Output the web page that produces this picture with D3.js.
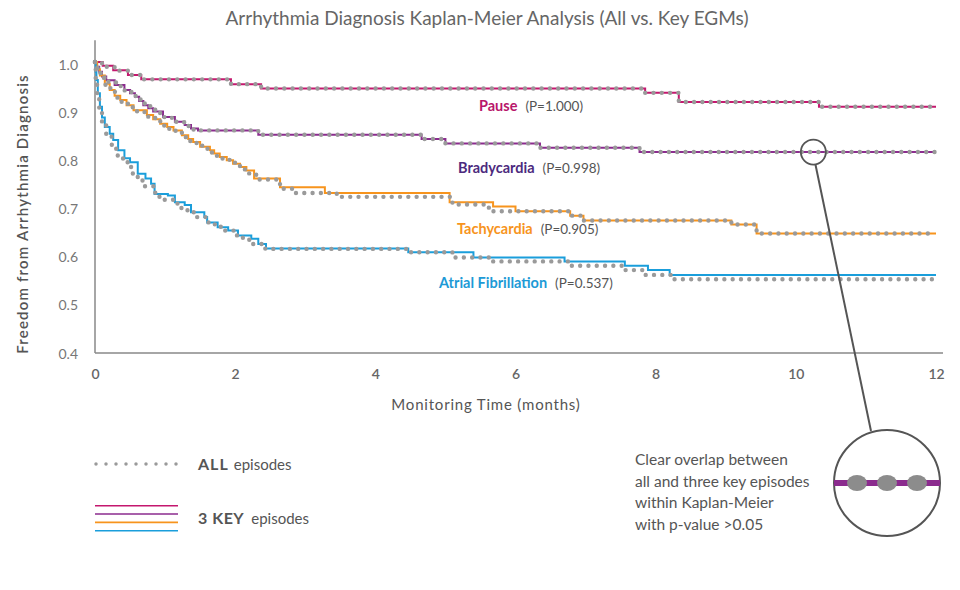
<html>
<head>
<title>Arrhythmia Diagnosis Kaplan-Meier</title>
<script src="https://cdn.jsdelivr.net/npm/d3@7"></script>
<style>
body { margin: 0; background: #fff; }
text { font-family: Lato, "Open Sans", sans-serif; }
</style>
</head>
<body>
<div id="canvas"></div>
<script>

// step points [months, survival]
var pauseKey = [[0,1],[0.11,0.992],[0.26,0.983],[0.47,0.973],[0.66,0.964],[1.94,0.954],[2.37,0.945],[7.85,0.936],[8.33,0.917],[10.33,0.907],[12,0.907]];
var pauseAll = [[0,1],[0.1,0.99],[0.28,0.982],[0.47,0.973],[0.66,0.964],[1.94,0.954],[2.37,0.945],[7.85,0.936],[8.33,0.917],[10.33,0.907],[12,0.907]];

var bradyKey = [[0,1],[0.03,0.99],[0.06,0.98],[0.1,0.97],[0.16,0.962],[0.28,0.952],[0.42,0.942],[0.5,0.935],[0.57,0.928],[0.63,0.919],[0.69,0.91],[0.76,0.904],[0.83,0.897],[0.97,0.886],[1.14,0.876],[1.28,0.869],[1.37,0.862],[1.47,0.858],[2.33,0.849],[4.66,0.84],[5.0,0.831],[6.35,0.822],[7.77,0.813],[12,0.813]];
var bradyAll = [[0,1],[0.03,0.988],[0.07,0.977],[0.11,0.968],[0.18,0.959],[0.3,0.95],[0.42,0.941],[0.52,0.933],[0.58,0.926],[0.65,0.917],[0.71,0.908],[0.79,0.901],[0.86,0.894],[0.99,0.884],[1.16,0.875],[1.3,0.867],[1.4,0.86],[1.47,0.858],[2.33,0.849],[4.66,0.84],[5.0,0.831],[6.35,0.822],[7.77,0.813],[12,0.813]];

var tachyKey = [[0,1],[0.03,0.985],[0.07,0.972],[0.14,0.955],[0.21,0.942],[0.28,0.93],[0.36,0.921],[0.45,0.91],[0.55,0.9],[0.74,0.89],[0.83,0.881],[0.93,0.872],[1.03,0.865],[1.12,0.858],[1.24,0.848],[1.33,0.84],[1.4,0.834],[1.5,0.824],[1.64,0.817],[1.7,0.81],[1.78,0.803],[1.88,0.796],[1.97,0.789],[2.07,0.782],[2.16,0.775],[2.27,0.758],[2.64,0.74],[3.28,0.728],[5.06,0.709],[5.68,0.7],[6.0,0.69],[6.78,0.681],[6.97,0.671],[9.08,0.6625],[9.44,0.644],[12,0.644]];
var tachyAll = [[0,1],[0.03,0.982],[0.08,0.967],[0.15,0.95],[0.22,0.938],[0.3,0.926],[0.38,0.916],[0.47,0.906],[0.6,0.896],[0.76,0.886],[0.86,0.877],[0.96,0.868],[1.06,0.861],[1.15,0.853],[1.27,0.844],[1.36,0.836],[1.45,0.829],[1.53,0.82],[1.66,0.812],[1.74,0.805],[1.82,0.798],[1.92,0.791],[2.01,0.784],[2.1,0.777],[2.2,0.766],[2.32,0.756],[2.64,0.737],[2.85,0.728],[3.45,0.72],[5.1,0.704],[5.62,0.69],[6.78,0.681],[6.97,0.671],[9.08,0.6625],[9.44,0.644],[12,0.644]];

var atrialKey = [[0,1],[0.01,0.98],[0.02,0.9625],[0.04,0.935],[0.07,0.907],[0.1,0.885],[0.14,0.865],[0.21,0.851],[0.26,0.838],[0.33,0.817],[0.42,0.8],[0.5,0.792],[0.61,0.768],[0.72,0.758],[0.8,0.747],[0.85,0.726],[1.04,0.723],[1.14,0.709],[1.28,0.703],[1.37,0.688],[1.56,0.678],[1.6,0.667],[1.75,0.657],[1.9,0.65],[2.04,0.64],[2.23,0.633],[2.33,0.622],[2.44,0.613],[4.47,0.605],[5.4,0.594],[6.7,0.586],[7.56,0.577],[7.89,0.568],[8.2,0.558],[12,0.558]];
var atrialAll = [[0,1],[0.01,0.96],[0.03,0.935],[0.06,0.9],[0.1,0.872],[0.16,0.845],[0.24,0.82],[0.31,0.806],[0.4,0.792],[0.47,0.782],[0.54,0.768],[0.61,0.754],[0.71,0.742],[0.86,0.726],[0.92,0.714],[1.12,0.706],[1.23,0.697],[1.32,0.688],[1.42,0.678],[1.6,0.667],[1.71,0.658],[1.8,0.65],[1.99,0.64],[2.11,0.631],[2.22,0.622],[2.43,0.612],[4.5,0.605],[5.1,0.594],[5.68,0.586],[6.78,0.577],[7.53,0.568],[7.85,0.558],[8.25,0.549],[12,0.549]];

var seriesNames = ["Pause", "Bradycardia", "Tachycardia", "Atrial Fibrillation"];
var pValues = ["(P=1.000)", "(P=0.998)", "(P=0.905)", "(P=0.537)"];
var keySeries = [pauseKey, bradyKey, tachyKey, atrialKey];
var allSeries = [pauseAll, bradyAll, tachyAll, atrialAll];

var xTicks = [0, 2, 4, 6, 8, 10, 12];
var yTicks = [0.4, 0.5, 0.6, 0.7, 0.8, 0.9, 1.0];
var noteLines = ["Clear overlap between", "all and three key episodes", "within Kaplan-Meier", "with p-value >0.05"];

var lineColors = ["#c4176e", "#8b2b8e", "#f7941d", "#1a9edb"];
var labelColors = ["#b8166b", "#4c2a7e", "#f7941d", "#1d9ad6"];
var dotColor = "#9a9a9a";

var svg = d3.select("#canvas")
            .append("svg")
            .attr("width", 960)
            .attr("height", 590);

var x = d3.scaleLinear().domain([0, 12]).range([95, 936]);
var y = d3.scaleLinear().domain([0.4, 1.0]).range([351, 62]);

var line = d3.line()
             .x(function(d) { return x(d[0]); })
             .y(function(d) { return y(d[1]); })
             .curve(d3.curveStepAfter);

// title
svg.append("text")
   .attr("x", 487)
   .attr("y", 25)
   .attr("text-anchor", "middle")
   .style("font-size", "19px")
   .style("fill", "#666")
   .text("Arrhythmia Diagnosis Kaplan-Meier Analysis (All vs. Key EGMs)");

// axes
var xAxis = svg.append("g")
               .attr("transform", "translate(0," + y(0.396) + ")")
               .call(d3.axisBottom(x).tickValues(xTicks).tickSize(0).tickPadding(16));
xAxis.select(".domain").remove();
xAxis.selectAll("text").style("font-size", "14px").style("fill", "#666").style("font-weight", "600").style("font-family", "Lato");

var yAxis = svg.append("g")
               .attr("transform", "translate(" + x(0) + ",0)")
               .call(d3.axisLeft(y).tickValues(yTicks).tickFormat(d3.format(".1f")).tickSize(0).tickPadding(17));
yAxis.select(".domain").remove();
yAxis.selectAll("text").attr("dy", "0.5em").style("font-size", "14px").style("fill", "#777").style("font-family", "Lato");

svg.append("line")
   .attr("x1", x(0)).attr("x2", x(0))
   .attr("y1", y(1.045)).attr("y2", y(0.396))
   .style("stroke", "#888").style("stroke-width", 1.5);
svg.append("line")
   .attr("x1", x(0)).attr("x2", x(12.1))
   .attr("y1", y(0.396)).attr("y2", y(0.396))
   .style("stroke", "#888").style("stroke-width", 1.5);

svg.append("text")
   .attr("x", 486)
   .attr("y", 410)
   .attr("text-anchor", "middle")
   .style("font-size", "15px")
   .style("letter-spacing", "0.8px")
   .style("fill", "#555")
   .text("Monitoring Time (months)");

svg.append("text")
   .attr("transform", "translate(28,214) rotate(-90)")
   .attr("text-anchor", "middle")
   .style("font-size", "15px")
   .style("font-weight", "600")
   .style("letter-spacing", "1.2px")
   .style("fill", "#555")
   .text("Freedom from Arrhythmia Diagnosis");

// key episode curves
svg.append("g")
   .selectAll("path")
   .data(keySeries)
   .enter()
   .append("path")
   .attr("d", line)
   .style("fill", "none")
   .style("stroke", function(d, i) { return lineColors[i]; })
   .style("stroke-width", 2);

// all episode curves, dotted on top
svg.append("g")
   .selectAll("path")
   .data(allSeries)
   .enter()
   .append("path")
   .attr("d", line)
   .style("fill", "none")
   .style("stroke", dotColor)
   .style("stroke-width", 4.4)
   .style("stroke-linecap", "round")
   .style("stroke-dasharray", "0 8.3");

// series labels
var labelPos = [[479, 111], [458, 173], [457, 234], [439, 288]];
var labels = svg.append("g")
                .selectAll("text")
                .data(seriesNames)
                .enter()
                .append("text")
                .attr("x", function(d, i) { return labelPos[i][0]; })
                .attr("y", function(d, i) { return labelPos[i][1]; })
                .style("font-size", "14.5px");
labels.append("tspan")
      .style("font-weight", "700")
      .style("fill", function(d, i) { return labelColors[i]; })
      .text(function(d) { return d; });
labels.append("tspan")
      .attr("dx", 8)
      .style("font-size", "13.5px")
      .style("fill", "#555")
      .text(function(d, i) { return pValues[i]; });

// callout
var spot = [x(10.25), y(0.813)];
var big = [887, 483, 53];
svg.append("line")
   .attr("x1", spot[0] + 2).attr("y1", spot[1] + 12)
   .attr("x2", 871).attr("y2", big[1] - big[2] + 1)
   .style("stroke", "#555").style("stroke-width", 2);
svg.append("circle")
   .attr("cx", spot[0]).attr("cy", spot[1]).attr("r", 12.5)
   .style("fill", "none").style("stroke", "#555").style("stroke-width", 1.8);
svg.append("circle")
   .attr("cx", big[0]).attr("cy", big[1]).attr("r", big[2])
   .style("fill", "#fff").style("stroke", "#555").style("stroke-width", 2);
svg.append("line")
   .attr("x1", big[0] - big[2]).attr("x2", big[0] + big[2])
   .attr("y1", big[1]).attr("y2", big[1])
   .style("stroke", lineColors[1]).style("stroke-width", 6);
svg.append("g")
   .selectAll("ellipse")
   .data([-30, 0, 30])
   .enter()
   .append("ellipse")
   .attr("cx", function(d) { return big[0] + d; })
   .attr("cy", big[1])
   .attr("rx", 10).attr("ry", 8)
   .style("fill", "#8c8c8c");

svg.append("g")
   .selectAll("text")
   .data(noteLines)
   .enter()
   .append("text")
   .attr("x", 635)
   .attr("y", function(d, i) { return 465 + i * 21.7; })
   .style("font-size", "15.5px")
   .style("fill", "#555")
   .text(function(d) { return d; });

// legend
svg.append("line")
   .attr("x1", 96).attr("x2", 178)
   .attr("y1", 464).attr("y2", 464)
   .style("stroke", dotColor).style("stroke-width", 3.5)
   .style("stroke-linecap", "round").style("stroke-dasharray", "0 10");

var legAll = svg.append("text").attr("x", 198).attr("y", 470).style("fill", "#555");
legAll.append("tspan").style("font-size", "16px").style("font-weight", "700").style("letter-spacing", "1px").text("ALL");
legAll.append("tspan").attr("dx", 5).style("font-size", "15px").text("episodes");

svg.append("g")
   .selectAll("line")
   .data(lineColors)
   .enter()
   .append("line")
   .attr("x1", 95).attr("x2", 178)
   .attr("y1", function(d, i) { return 505.7 + i * 8.33; })
   .attr("y2", function(d, i) { return 505.7 + i * 8.33; })
   .style("stroke", function(d) { return d; })
   .style("stroke-width", 1.6);

var legKey = svg.append("text").attr("x", 198).attr("y", 524).style("fill", "#555");
legKey.append("tspan").style("font-size", "16px").style("font-weight", "700").style("letter-spacing", "0.5px").text("3 KEY");
legKey.append("tspan").attr("dx", 7).style("font-size", "15px").text("episodes");

</script>
</body>
</html>
